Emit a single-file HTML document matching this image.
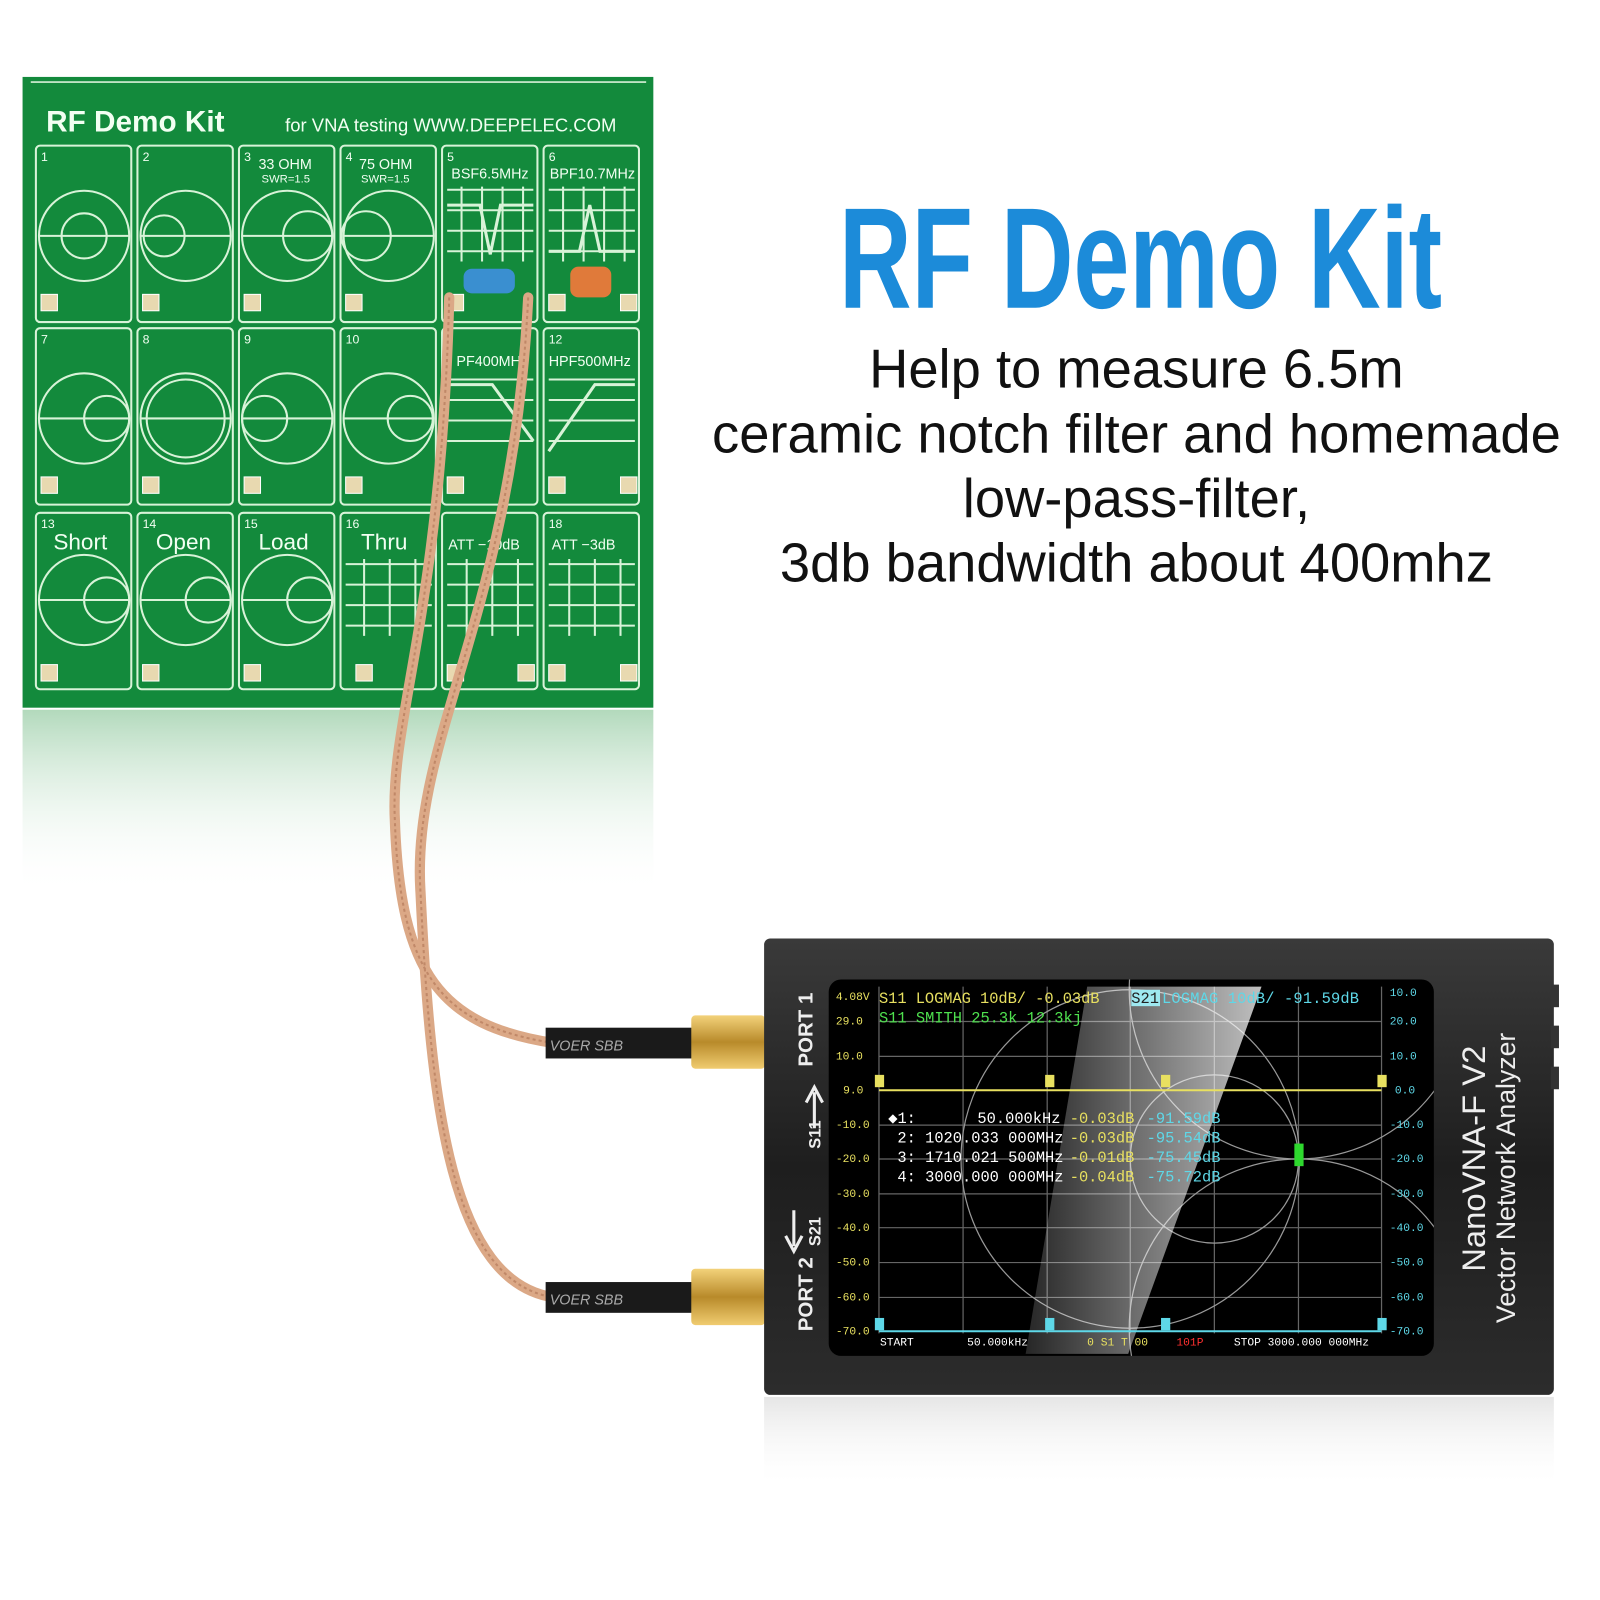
<!DOCTYPE html>
<html><head><meta charset="utf-8"><style>
html,body{margin:0;padding:0;background:#fff;}
svg{display:block;}
text{font-family:"Liberation Sans",sans-serif;}
.m text, text.m{font-family:"Liberation Mono",monospace;}
</style></head><body>
<svg width="1600" height="1600" viewBox="0 0 1560 1560" xmlns="http://www.w3.org/2000/svg">
<defs>
<linearGradient id="refl" x1="0" y1="0" x2="0" y2="1">
<stop offset="0" stop-color="#7fc08f" stop-opacity="0.6"/>
<stop offset="1" stop-color="#ffffff" stop-opacity="0"/>
</linearGradient>
<linearGradient id="gold" x1="0" y1="0" x2="0" y2="1">
<stop offset="0" stop-color="#f3d27a"/><stop offset="0.5" stop-color="#b88a2a"/><stop offset="1" stop-color="#f0cc70"/>
</linearGradient>
<linearGradient id="box" x1="0" y1="0" x2="0" y2="1">
<stop offset="0" stop-color="#3a3a3a"/><stop offset="0.5" stop-color="#1e1e1e"/><stop offset="1" stop-color="#2c2c2c"/>
</linearGradient>
<linearGradient id="dev" x1="0" y1="0" x2="0" y2="1">
<stop offset="0" stop-color="#cccccc" stop-opacity="0.5"/><stop offset="1" stop-color="#fff" stop-opacity="0"/>
</linearGradient>
<linearGradient id="glare" x1="0" y1="0" x2="1" y2="0">
<stop offset="0" stop-color="#fff" stop-opacity="0.15"/><stop offset="1" stop-color="#fff" stop-opacity="0.75"/>
</linearGradient>
<clipPath id="scr"><rect x="808" y="955" width="590" height="367" rx="12"/></clipPath>
</defs>

<rect x="22" y="692" width="615" height="180" fill="url(#refl)"/>

<rect x="22" y="75" width="615" height="615" fill="#138a3c"/>
<line x1="30" y1="80" x2="630" y2="80" stroke="#d8f0d8" stroke-width="1.5"/>
<text x="45" y="128" font-size="29" fill="#f2fff2" font-weight="bold">RF  Demo  Kit</text>
<text x="278" y="128" font-size="18" fill="#f2fff2">for VNA testing  WWW.DEEPELEC.COM</text>

<g fill="none" stroke="#d8f3d8" stroke-width="2">
<rect x="35" y="142" width="93" height="172" rx="4"/><rect x="134" y="142" width="93" height="172" rx="4"/>
<rect x="233" y="142" width="93" height="172" rx="4"/><rect x="332" y="142" width="93" height="172" rx="4"/>
<rect x="431" y="142" width="93" height="172" rx="4"/><rect x="530" y="142" width="93" height="172" rx="4"/>
<rect x="35" y="320" width="93" height="172" rx="4"/><rect x="134" y="320" width="93" height="172" rx="4"/>
<rect x="233" y="320" width="93" height="172" rx="4"/><rect x="332" y="320" width="93" height="172" rx="4"/>
<rect x="431" y="320" width="93" height="172" rx="4"/><rect x="530" y="320" width="93" height="172" rx="4"/>
<rect x="35" y="500" width="93" height="172" rx="4"/><rect x="134" y="500" width="93" height="172" rx="4"/>
<rect x="233" y="500" width="93" height="172" rx="4"/><rect x="332" y="500" width="93" height="172" rx="4"/>
<rect x="431" y="500" width="93" height="172" rx="4"/><rect x="530" y="500" width="93" height="172" rx="4"/>
<circle cx="82" cy="230" r="44"/><circle cx="181" cy="230" r="44"/><circle cx="280" cy="230" r="44"/><circle cx="379" cy="230" r="44"/>
<circle cx="82" cy="408" r="44"/><circle cx="181" cy="408" r="44"/><circle cx="280" cy="408" r="44"/><circle cx="379" cy="408" r="44"/>
<circle cx="82" cy="585" r="44"/><circle cx="181" cy="585" r="44"/><circle cx="280" cy="585" r="44"/>
<path d="M38 230H126M137 230H225M236 230H324M335 230H423M38 408H126M137 408H225M236 408H324M335 408H423M38 585H126M137 585H225M236 585H324"/>
<circle cx="82" cy="230" r="22"/><circle cx="160" cy="230" r="20"/><circle cx="400" cy="408" r="22"/><circle cx="181" cy="408" r="38"/>
<circle cx="300" cy="230" r="24"/><circle cx="357" cy="230" r="24"/><circle cx="104" cy="408" r="22"/><circle cx="258" cy="408" r="22"/>
<circle cx="104" cy="585" r="22"/><circle cx="203" cy="585" r="22"/><circle cx="302" cy="585" r="22"/>
<path d="M436 185H520M436 205H520M436 225H520M436 245H520M450 182V255M470 182V255M490 182V255M510 182V255"/>
<path d="M535 185H619M535 205H619M535 225H619M535 245H619M549 182V255M569 182V255M589 182V255M609 182V255"/>
<path d="M436 200H468L478 248L488 200H520" stroke-width="3"/>
<path d="M535 245H565L575 200L585 245H619" stroke-width="3"/>
<path d="M436 370H520M436 390H520M436 410H520M436 430H520M535 370H619M535 390H619M535 410H619M535 430H619"/>
<path d="M436 375H480L520 430M535 440L580 375H619" stroke-width="3"/>
<path d="M337 550H421M337 570H421M337 590H421M337 610H421M436 550H520M436 570H520M436 590H520M436 610H520M535 550H619M535 570H619M535 590H619M535 610H619"/>
<path d="M355 545V620M380 545V620M405 545V620M455 545V620M480 545V620M505 545V620M555 545V620M580 545V620M605 545V620"/>
</g>
<g fill="#f2fff2" font-size="12">
<text x="40" y="157">1</text><text x="139" y="157">2</text><text x="238" y="157">3</text><text x="337" y="157">4</text><text x="436" y="157">5</text><text x="535" y="157">6</text>
<text x="40" y="335">7</text><text x="139" y="335">8</text><text x="238" y="335">9</text><text x="337" y="335">10</text><text x="535" y="335">12</text>
<text x="40" y="515">13</text><text x="139" y="515">14</text><text x="238" y="515">15</text><text x="337" y="515">16</text><text x="535" y="515">18</text>
</g>
<g fill="#f2fff2" font-size="14">
<text x="252" y="165">33 OHM</text><text x="350" y="165">75 OHM</text>
<text x="255" y="178" font-size="11">SWR=1.5</text><text x="352" y="178" font-size="11">SWR=1.5</text>
<text x="440" y="174">BSF6.5MHz</text><text x="536" y="174">BPF10.7MHz</text>
<text x="445" y="357">PF400MH</text><text x="535" y="357">HPF500MHz</text>
<text x="437" y="536">ATT −10dB</text><text x="538" y="536">ATT −3dB</text>
<text x="52" y="536" font-size="22">Short</text><text x="152" y="536" font-size="22">Open</text><text x="252" y="536" font-size="22">Load</text><text x="352" y="536" font-size="22">Thru</text>
</g>
<g fill="#e8d9b0" stroke="#fff" stroke-width="1">
<rect x="40" y="287" width="16" height="16"/><rect x="139" y="287" width="16" height="16"/><rect x="238" y="287" width="16" height="16"/><rect x="337" y="287" width="16" height="16"/><rect x="436" y="287" width="16" height="16"/><rect x="535" y="287" width="16" height="16"/><rect x="605" y="287" width="16" height="16"/>
<rect x="40" y="465" width="16" height="16"/><rect x="139" y="465" width="16" height="16"/><rect x="238" y="465" width="16" height="16"/><rect x="337" y="465" width="16" height="16"/><rect x="436" y="465" width="16" height="16"/><rect x="535" y="465" width="16" height="16"/><rect x="605" y="465" width="16" height="16"/>
<rect x="40" y="648" width="16" height="16"/><rect x="139" y="648" width="16" height="16"/><rect x="238" y="648" width="16" height="16"/><rect x="347" y="648" width="16" height="16"/><rect x="436" y="648" width="16" height="16"/><rect x="505" y="648" width="16" height="16"/><rect x="535" y="648" width="16" height="16"/><rect x="605" y="648" width="16" height="16"/>
</g>
<rect x="452" y="262" width="50" height="24" rx="8" fill="#3a8fd0"/>
<rect x="556" y="260" width="40" height="30" rx="8" fill="#e07a3a"/>

<g fill="none" stroke="#dba886" stroke-width="10" stroke-linecap="round">
<path d="M438 290 C430 600 380 700 385 800 C390 950 430 1000 540 1017"/>
<path d="M515 290 C500 600 400 720 410 870 C420 1080 440 1250 540 1265"/>
</g>
<g fill="none" stroke="#c08868" stroke-width="2" stroke-dasharray="3 3">
<path d="M438 290 C430 600 380 700 385 800 C390 950 430 1000 540 1017"/>
<path d="M515 290 C500 600 400 720 410 870 C420 1080 440 1250 540 1265"/>
</g>
<rect x="532" y="1002" width="145" height="30" fill="#1a1a1a"/>
<rect x="532" y="1250" width="145" height="30" fill="#1a1a1a"/>
<text x="536" y="1024" font-size="14" fill="#aaa" font-style="italic">VOER   SBB</text>
<text x="536" y="1272" font-size="14" fill="#aaa" font-style="italic">VOER   SBB</text>
<rect x="674" y="990" width="72" height="52" rx="4" fill="url(#gold)"/>
<rect x="674" y="1237" width="72" height="55" rx="4" fill="url(#gold)"/>

<text x="1112" y="300" font-size="140" font-weight="bold" fill="#1c8bd9" text-anchor="middle" transform="translate(1112 0) scale(0.7 1) translate(-1112 0)">RF Demo Kit</text>
<g font-size="53" fill="#111" text-anchor="middle">
<text x="1108" y="378">Help to measure 6.5m</text>
<text x="1108" y="441">ceramic notch filter and homemade</text>
<text x="1108" y="504">low-pass-filter,</text>
<text x="1108" y="567">3db bandwidth about 400mhz</text>
</g>

<rect x="745" y="1362" width="770" height="90" fill="url(#dev)"/>
<rect x="745" y="915" width="770" height="445" rx="6" fill="url(#box)"/>
<rect x="1512" y="960" width="8" height="22" fill="#333"/><rect x="1512" y="1000" width="8" height="22" fill="#333"/><rect x="1512" y="1040" width="8" height="22" fill="#333"/>
<rect x="808" y="955" width="590" height="367" rx="12" fill="#000"/>
<text transform="translate(1448 1240) rotate(-90)" font-size="32" fill="#eee">NanoVNA-F V2</text>
<text transform="translate(1477 1290) rotate(-90)" font-size="26" fill="#eee">Vector Network Analyzer</text>
<text transform="translate(792 1040) rotate(-90)" font-size="20" font-weight="bold" fill="#eee">PORT 1</text>
<text transform="translate(792 1298) rotate(-90)" font-size="20" font-weight="bold" fill="#eee">PORT 2</text>
<text transform="translate(800 1120) rotate(-90)" font-size="16" font-weight="bold" fill="#eee">S11</text>
<text transform="translate(800 1215) rotate(-90)" font-size="16" font-weight="bold" fill="#eee">S21</text>
<path d="M794 1065V1100M786 1075L794 1060L802 1075M774 1180V1215M766 1205L774 1220L782 1205" stroke="#eee" stroke-width="3" fill="none"/>

<g clip-path="url(#scr)">
<g stroke="#666" stroke-width="1.2" fill="none">
<path d="M857 996H1347M857 1030H1347M857 1097H1347M857 1130H1347M857 1164H1347M857 1197H1347M857 1231H1347M857 1265H1347M857 1298H1347"/>
<path d="M857 962V1300M939 962V1300M1021 962V1300M1102 962V1300M1184 962V1300M1266 962V1300M1347 962V1300"/>
<circle cx="1102" cy="1130" r="165" stroke="#999"/>
<circle cx="1184" cy="1130" r="82" stroke="#999"/>
<circle cx="1266" cy="965" r="165" stroke="#999"/>
<circle cx="1266" cy="1295" r="165" stroke="#999"/>
</g>
<path d="M1060 962H1230L1100 1320H1000Z" fill="url(#glare)"/>
</g>
<path d="M857 1063H1347" stroke="#e8e060" stroke-width="2"/>
<path d="M857 1298H1347" stroke="#5ed8e8" stroke-width="2"/>
<rect x="1262" y="1115" width="9" height="22" fill="#2ed82e"/>
<g class="m" font-size="11" fill="#e8e060">
<text x="815" y="975">4.08V</text><text x="815" y="999">29.0</text><text x="815" y="1033">10.0</text><text x="822" y="1066">9.0</text>
<text x="815" y="1100">-10.0</text><text x="815" y="1133">-20.0</text><text x="815" y="1167">-30.0</text><text x="815" y="1200">-40.0</text>
<text x="815" y="1234">-50.0</text><text x="815" y="1268">-60.0</text><text x="815" y="1301">-70.0</text>
</g>
<g class="m" font-size="11" fill="#5ed8e8">
<text x="1355" y="971">10.0</text><text x="1355" y="999">20.0</text><text x="1355" y="1033">10.0</text><text x="1360" y="1066">0.0</text>
<text x="1355" y="1100">-10.0</text><text x="1355" y="1133">-20.0</text><text x="1355" y="1167">-30.0</text><text x="1355" y="1200">-40.0</text>
<text x="1355" y="1234">-50.0</text><text x="1355" y="1268">-60.0</text><text x="1355" y="1301">-70.0</text>
</g>
<g class="m" font-size="15">
<text x="857" y="978" fill="#e8e060" textLength="215">S11 LOGMAG 10dB/  -0.03dB</text>
<text x="857" y="997" fill="#4ee04e">S11 SMITH   25.3k  12.3kj</text>
<rect x="1103" y="965" width="28" height="16" fill="#9ee8f0"/>
<text x="1103" y="978" fill="#222">S21</text>
<text x="1133" y="978" fill="#5ed8e8" textLength="192">LOGMAG 10dB/  -91.59dB</text>
<text x="866" y="1095" fill="#fff">◆1:</text><text x="953" y="1095" fill="#fff">50.000kHz</text>
<text x="875" y="1114" fill="#fff">2: 1020.033 000MHz</text>
<text x="875" y="1133" fill="#fff">3: 1710.021 500MHz</text>
<text x="875" y="1152" fill="#fff">4: 3000.000 000MHz</text>
<text x="1043" y="1095" fill="#e8e060">-0.03dB</text><text x="1043" y="1114" fill="#e8e060">-0.03dB</text>
<text x="1043" y="1133" fill="#e8e060">-0.01dB</text><text x="1043" y="1152" fill="#e8e060">-0.04dB</text>
<text x="1118" y="1095" fill="#5ed8e8">-91.59dB</text><text x="1118" y="1114" fill="#5ed8e8">-95.54dB</text>
<text x="1118" y="1133" fill="#5ed8e8">-75.45dB</text><text x="1118" y="1152" fill="#5ed8e8">-75.72dB</text>
</g>
<g class="m" font-size="11">
<rect x="853" y="1048" width="9" height="12" fill="#e8e060"/><rect x="1019" y="1048" width="9" height="12" fill="#e8e060"/><rect x="1132" y="1048" width="9" height="12" fill="#e8e060"/><rect x="1343" y="1048" width="9" height="12" fill="#e8e060"/>
<rect x="853" y="1285" width="9" height="12" fill="#5ed8e8"/><rect x="1019" y="1285" width="9" height="12" fill="#5ed8e8"/><rect x="1132" y="1285" width="9" height="12" fill="#5ed8e8"/><rect x="1343" y="1285" width="9" height="12" fill="#5ed8e8"/>
<text x="858" y="1312" fill="#fff">START</text><text x="943" y="1312" fill="#fff">50.000kHz</text>
<text x="1060" y="1312" fill="#e8e060">0 S1 T  00</text><text x="1147" y="1312" fill="#ff3030">101P</text>
<text x="1203" y="1312" fill="#fff">STOP 3000.000 000MHz</text>
</g>
</svg>
</body></html>
